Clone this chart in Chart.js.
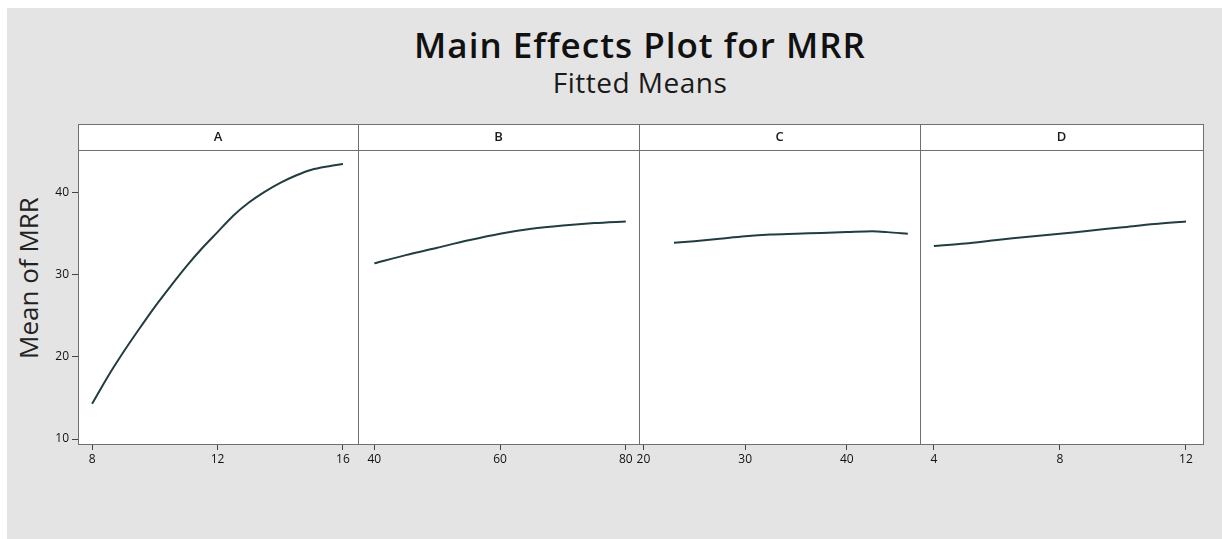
<!DOCTYPE html>
<html><head><meta charset="utf-8">
<script src="https://cdn.jsdelivr.net/npm/chart.js@4.4.1/dist/chart.umd.min.js"></script>
<style>
html,body{margin:0;padding:0;background:#fff;}
body{width:1222px;height:539px;overflow:hidden;position:relative;font-family:'Open Sans',sans-serif;}
#bg{position:absolute;left:7px;top:8px;width:1215px;height:531px;background:#e4e4e4;}
#title{position:absolute;left:40px;width:1200px;top:27px;text-align:center;font-size:35px;line-height:35px;font-weight:600;letter-spacing:1px;color:#111;white-space:nowrap;}
#subtitle{position:absolute;left:40px;width:1200px;top:68px;text-align:center;font-size:28px;line-height:28px;letter-spacing:0.5px;color:#1a1a1a;white-space:nowrap;}
#ytitle{position:absolute;left:-122px;top:263px;width:300px;height:30px;line-height:30px;text-align:center;font-size:26px;color:#222;transform:rotate(-90deg);white-space:nowrap;}
.wrap{position:absolute;top:110px;height:429px;}
</style></head>
<body>
<div id="bg"></div>
<div id="title">Main Effects Plot for MRR</div>
<div id="subtitle">Fitted Means</div>
<div id="ytitle"></div>
<div id="panels"></div>
<script>
// ---- data ----
const panelLabels = ['A', 'B', 'C', 'D'];
const levelsA = [8, 8.5, 9, 9.5, 10, 10.5, 11, 11.5, 12, 12.5, 13, 13.5, 14, 14.5, 15, 15.5, 16];
const meansA  = [14.3, 17.6, 20.6, 23.4, 26.1, 28.6, 31.0, 33.2, 35.2, 37.2, 38.8, 40.1, 41.2, 42.1, 42.8, 43.2, 43.5];
const levelsB = [40, 45, 50, 55, 60, 65, 70, 75, 80];
const meansB  = [31.4, 32.4, 33.3, 34.2, 35.0, 35.6, 36.0, 36.3, 36.5];
const levelsC = [23, 25, 27.5, 30, 32.5, 35, 37.5, 40, 42.5, 44, 46];
const meansC  = [33.9, 34.1, 34.4, 34.7, 34.9, 35.0, 35.1, 35.2, 35.3, 35.2, 35.0];
const levelsD = [4, 5, 6, 7, 8, 9, 10, 11, 12];
const meansD  = [33.5, 33.8, 34.25, 34.65, 35.0, 35.4, 35.8, 36.2, 36.5];
const ticksA = [8, 12, 16];
const ticksB = [40, 60, 80];
const ticksC = [20, 30, 40];
const ticksD = [4, 8, 12];
const ticksY = [10, 20, 30, 40];
const rangeA = [7.55, 16.48];
const rangeB = [37.4, 82.1];
const rangeC = [19.56, 47.2];
const rangeD = [3.56, 12.54];
const rangeY = [9.4, 45.2];
const yTitle = 'Mean of MRR';

document.getElementById('ytitle').textContent = yTitle;

// ---- layout ----
const edges = [78, 358, 639, 920, 1203];
const FONT = "'Open Sans', sans-serif";
const FRAME = '#6f6f6f';
const HEADER_H = 26;

const framePlugin = {
  id: 'frame',
  beforeDraw(chart) {
    const {ctx, chartArea: a} = chart;
    ctx.save();
    ctx.fillStyle = '#ffffff';
    ctx.fillRect(a.left, a.top - HEADER_H, a.right - a.left, a.bottom - a.top + HEADER_H);
    ctx.restore();
  },
  afterDraw(chart) {
    const {ctx, chartArea: a} = chart;
    const L = Math.round(a.left) + 0.5, R = Math.round(a.right) + 0.5;
    const T = Math.round(a.top) + 0.5, B = Math.round(a.bottom) + 0.5;
    const H = Math.round(a.top - HEADER_H) + 0.5;
    ctx.save();
    ctx.strokeStyle = FRAME;
    ctx.lineWidth = 1;
    ctx.strokeRect(L, H, R - L, B - H);
    ctx.beginPath(); ctx.moveTo(L, T); ctx.lineTo(R, T); ctx.stroke();
    ctx.restore();
  }
};

function makePanel(i, xs, ys, xTicks, xRange) {
  const showY = i === 0;
  const left = showY ? 0 : edges[i] - 20;
  const width = edges[i + 1] + 20 - left;
  const wrap = document.createElement('div');
  wrap.className = 'wrap';
  wrap.style.left = left + 'px';
  wrap.style.width = width + 'px';
  const cv = document.createElement('canvas');
  cv.width = width; cv.height = 429;
  cv.style.width = width + 'px'; cv.style.height = '429px';
  wrap.appendChild(cv);
  document.getElementById('panels').appendChild(wrap);
  new Chart(cv, {
    type: 'line',
    data: {
      datasets: [{
        data: xs.map((x, k) => ({x: x, y: ys[k]})),
        borderColor: '#223d40',
        borderWidth: 2,
        pointRadius: 0,
        tension: 0.3,
        fill: false
      }]
    },
    options: {
      responsive: false,
      animation: false,
      devicePixelRatio: 1,
      layout: {padding: {left: showY ? 0 : 20, right: 20, top: 0, bottom: 0}},
      plugins: {
        legend: {display: false},
        tooltip: {enabled: false},
        title: {
          display: true, text: panelLabels[i], fullSize: false,
          color: '#1a1a1a', font: {family: FONT, size: 13, weight: '600', lineHeight: 1.2},
          padding: {top: 19.5, bottom: 4.9}
        }
      },
      scales: {
        x: {
          type: 'linear', min: xRange[0], max: xRange[1],
          afterBuildTicks: s => { s.ticks = xTicks.map(v => ({value: v})); },
          afterFit: s => { s.height = 95; },
          grid: {display: true, drawOnChartArea: false, drawTicks: true, tickLength: 6, color: '#444', lineWidth: 1},
          border: {display: false},
          ticks: {color: '#111', font: {family: FONT, size: 12}, padding: 2, maxRotation: 0, autoSkip: false}
        },
        y: {
          type: 'linear', min: rangeY[0], max: rangeY[1], display: showY,
          afterBuildTicks: s => { s.ticks = ticksY.map(v => ({value: v})); },
          afterFit: s => { if (showY) s.width = edges[0]; },
          grid: {display: true, drawOnChartArea: false, drawTicks: true, tickLength: 6, color: '#444', lineWidth: 1},
          border: {display: false},
          ticks: {color: '#111', font: {family: FONT, size: 12}, padding: 3}
        }
      }
    },
    plugins: [framePlugin]
  });
}

makePanel(0, levelsA, meansA, ticksA, rangeA);
makePanel(1, levelsB, meansB, ticksB, rangeB);
makePanel(2, levelsC, meansC, ticksC, rangeC);
makePanel(3, levelsD, meansD, ticksD, rangeD);
</script>
</body></html>
